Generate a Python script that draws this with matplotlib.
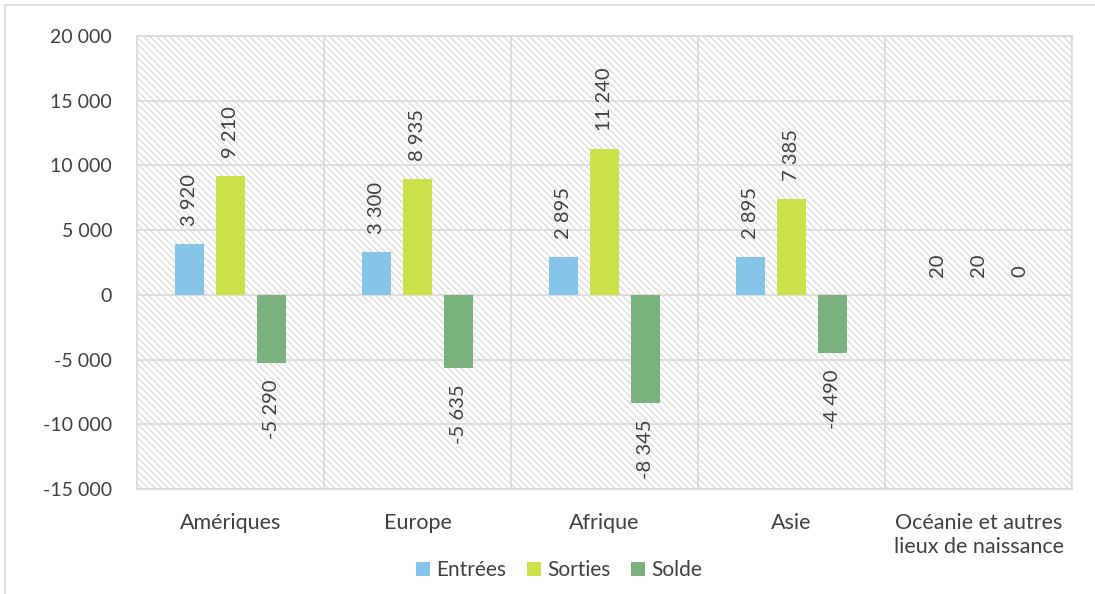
import matplotlib.pyplot as plt
import numpy as np
from matplotlib.patches import Rectangle

# data
categories = ['Amériques', 'Europe', 'Afrique', 'Asie', 'Océanie et autres\nlieux de naissance']
entrees = [3920, 3300, 2895, 2895, 20]
sorties = [9210, 8935, 11240, 7385, 20]
solde = [-5290, -5635, -8345, -4490, 0]
series_names = ['Entrées', 'Sorties', 'Solde']
colors = ['#86C5E8', '#CDE14B', '#7AB17E']

def fmt(v):
    s = '{:,}'.format(abs(int(v))).replace(',', ' ')
    return ('-' if v < 0 else '') + s

plt.rcParams['font.family'] = ['Lato', 'DejaVu Sans']
plt.rcParams['hatch.color'] = '#d6d6d6'
plt.rcParams['hatch.linewidth'] = 0.8
text_color = '#404040'
grid_color = '#d9d9d9'

fig = plt.figure(figsize=(10.95, 5.94), dpi=100)
ax = fig.add_axes([137/1095, 1 - 489/594, 935/1095, 453/594])

# hatched background
ax.add_patch(Rectangle((0, 0), 1, 1, transform=ax.transAxes, facecolor='white',
                       edgecolor='#d6d6d6', hatch='\\' * 5, linewidth=0, zorder=0))

x = np.arange(len(categories))
width = 0.155
step = 0.22
all_series = [entrees, sorties, solde]
for i, (vals, name, c) in enumerate(zip(all_series, series_names, colors)):
    xs = x + (i - 1) * step
    ax.bar(xs, vals, width, color=c, label=name, zorder=3)
    for xi, v in zip(xs, vals):
        if v < 0:
            ax.annotate(fmt(v), (xi, v), xytext=(0, -12), textcoords='offset points',
                        rotation=90, ha='center', va='top', fontsize=14.5, color=text_color)
        else:
            ax.annotate(fmt(v), (xi, v), xytext=(0, 13), textcoords='offset points',
                        rotation=90, ha='center', va='bottom', fontsize=14.5, color=text_color)

ax.set_xlim(-0.5, len(categories) - 0.5)
ax.set_ylim(-15000, 20000)
yt = np.arange(-15000, 20001, 5000)
ax.set_yticks(yt)
ax.set_yticklabels([fmt(v) for v in yt], fontsize=14, color=text_color)
ax.set_xticks(x)
ax.set_xticklabels(categories, fontsize=15.5, color=text_color, linespacing=1.25)
ax.tick_params(length=0)
ax.tick_params(axis='y', pad=18)
ax.tick_params(axis='x', pad=17)

for yv in yt:
    ax.axhline(yv, color=grid_color, lw=1.2, zorder=1)
for xv in x[:-1] + 0.5:
    ax.axvline(xv, color=grid_color, lw=1.2, zorder=1)
for sp in ax.spines.values():
    sp.set_color(grid_color)
    sp.set_linewidth(1.2)

leg = fig.legend(loc='center', bbox_to_anchor=(559/1095, 1 - 570/594), ncol=3, frameon=False,
                 fontsize=15, handlelength=0.65, handleheight=0.65, handletextpad=0.3,
                 columnspacing=1.0)
for t in leg.get_texts():
    t.set_color(text_color)

# chart area border
fig.patches.append(Rectangle((5/1095, -0.1), 1.2, 1 - 5/594 + 0.1, transform=fig.transFigure,
                             fill=False, edgecolor=grid_color, lw=1.2))

fig.savefig('out.png', dpi=100)
